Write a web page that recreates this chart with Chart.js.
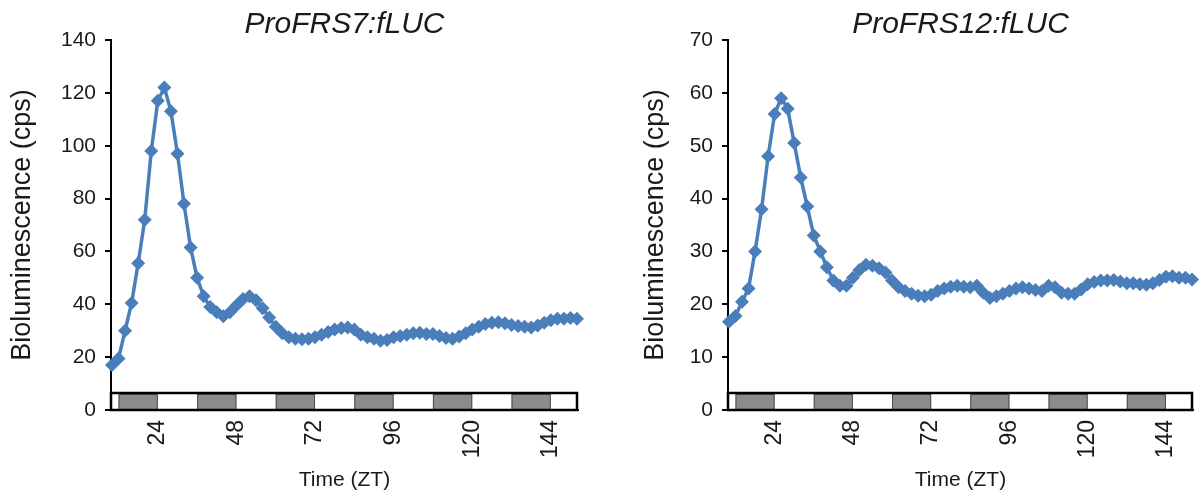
<!DOCTYPE html>
<html>
<head>
<meta charset="utf-8">
<script src="https://cdn.jsdelivr.net/npm/chart.js@4/dist/chart.umd.min.js"></script>
<style>
  body { margin: 0; background: #fff; }
  canvas { position: absolute; top: 0; }
</style>
</head>
<body>
<canvas id="chartFRS7" width="600" height="497" style="left:0px"></canvas>
<canvas id="chartFRS12" width="567" height="497" style="left:633px"></canvas>
<script>
// sampling times (ZT, hours)
const hours = [10, 12, 14, 16, 18, 20, 22, 24, 26, 28, 30, 32, 34, 36, 38, 40, 42, 44, 46, 48,
  50, 52, 54, 56, 58, 60, 62, 64, 66, 68, 70, 72, 74, 76, 78, 80, 82, 84, 86, 88,
  90, 92, 94, 96, 98, 100, 102, 104, 106, 108, 110, 112, 114, 116, 118, 120, 122, 124, 126, 128,
  130, 132, 134, 136, 138, 140, 142, 144, 146, 148, 150, 152];

// ProFRS7:fLUC bioluminescence (cps)
const frs7 = [17, 19.5, 30, 40.5, 55.5, 72, 98, 117, 122, 113, 97, 78, 61.5, 50, 43, 39, 37, 35.5, 37, 39.5,
  42, 43, 41.5, 38.5, 35, 31.5, 29, 27.5, 27, 26.8, 27, 27.5, 28.5, 29.5, 30.5, 31, 31.2, 30.5, 28.5, 27.5,
  27, 26.2, 26.5, 27.5, 28, 28.5, 29, 29.2, 28.8, 28.8, 28, 27.2, 27, 27.8, 29, 30.5, 31.5, 32.5, 33, 33.2,
  32.8, 32.2, 31.8, 31.5, 31.2, 32, 33, 34, 34.5, 34.5, 34.8, 34.5];

// ProFRS12:fLUC bioluminescence (cps)
const frs12 = [16.7, 17.8, 20.5, 23, 30, 38, 48, 56, 59, 57, 50.5, 44, 38.5, 33, 30, 27, 24.5, 23.5, 23.5, 25,
  26.5, 27.5, 27.3, 26.8, 26, 24.5, 23.2, 22.5, 22, 21.6, 21.5, 21.8, 22.5, 23, 23.3, 23.5, 23.3, 23.2, 23.5, 22.2,
  21.2, 21.5, 22, 22.5, 23, 23.2, 23, 22.7, 22.5, 23.5, 23.2, 22.2, 22, 22, 22.8, 23.8, 24.2, 24.5, 24.5, 24.6,
  24.3, 24, 24, 23.8, 23.7, 24, 24.6, 25.2, 25.3, 25, 25, 24.7];

const xTicks = [24, 48, 72, 96, 120, 144];

// dark periods for the light/dark bar
const darkStart = [12, 36, 60, 84, 108, 132];
const darkEnd = [24, 48, 72, 96, 120, 144];

const xMin = 9.7;
const xMax = 152.3;

const blue = '#4a7ebb';
const textColor = '#1a1a1a';
const fontFamily = '"Liberation Sans", Arial, sans-serif';

// light/dark bar at the bottom of the plot
const lightDarkBar = {
  id: 'lightDarkBar',
  beforeDatasetsDraw(chart) {
    const ctx = chart.ctx;
    const area = chart.chartArea;
    const x = chart.scales.x;
    const top = area.bottom - 17;
    ctx.save();
    ctx.fillStyle = '#fff';
    ctx.fillRect(area.left, top, area.right - area.left, area.bottom - top);
    for (let i = 0; i < darkStart.length; i++) {
      const x0 = x.getPixelForValue(darkStart[i]);
      const x1 = x.getPixelForValue(darkEnd[i]);
      ctx.fillStyle = '#8c8c8c';
      ctx.fillRect(x0, top + 1, x1 - x0, area.bottom - top - 1);
      ctx.strokeStyle = '#4d4d4d';
      ctx.lineWidth = 1;
      ctx.strokeRect(x0 + 0.5, top + 1.5, x1 - x0 - 1, area.bottom - top - 2);
    }
    ctx.strokeStyle = '#000';
    ctx.lineWidth = 2.5;
    ctx.strokeRect(area.left, top, area.right - area.left - 1, area.bottom - top);
    ctx.restore();
  }
};

function makeChart(id, title, values, yMax, yStep, yWidth, padRight) {
  return new Chart(document.getElementById(id).getContext('2d'), {
    type: 'line',
    data: {
      datasets: [{
        data: values.map((v, i) => ({ x: hours[i], y: v })),
        borderColor: blue,
        backgroundColor: blue,
        borderWidth: 3.5,
        pointStyle: 'rectRot',
        pointRadius: 7,
        pointBorderWidth: 0,
        tension: 0,
        clip: false
      }]
    },
    options: {
      responsive: false,
      animation: false,
      devicePixelRatio: 1,
      layout: { padding: { left: 0, right: padRight, top: 0, bottom: 0 } },
      plugins: {
        legend: { display: false },
        tooltip: { enabled: false },
        title: {
          display: true,
          text: title,
          fullSize: false,
          color: textColor,
          font: { family: fontFamily, size: 30, style: 'italic', weight: 'normal', lineHeight: 1 },
          padding: { top: 10, bottom: 0 }
        }
      },
      scales: {
        x: {
          type: 'linear',
          min: xMin,
          max: xMax,
          afterBuildTicks: s => { s.ticks = xTicks.map(v => ({ value: v })); },
          afterFit: s => { s.height = 87; s.paddingLeft = 0; s.paddingRight = 0; },
          grid: { display: false, drawTicks: false },
          border: { display: true, color: '#000', width: 2 },
          ticks: {
            minRotation: 90,
            maxRotation: 90,
            padding: 10,
            color: textColor,
            font: { family: fontFamily, size: 23 }
          },
          title: {
            display: true,
            text: 'Time (ZT)',
            color: textColor,
            font: { family: fontFamily, size: 21 },
            padding: { top: 0, bottom: 4 }
          }
        },
        y: {
          min: 0,
          max: yMax,
          afterFit: s => { s.width = yWidth; },
          grid: { drawOnChartArea: false, drawTicks: true, tickLength: 6, color: '#000', lineWidth: 2 },
          border: { display: true, color: '#000', width: 2 },
          ticks: {
            stepSize: yStep,
            padding: 9,
            color: textColor,
            font: { family: fontFamily, size: 21 }
          },
          title: {
            display: true,
            text: 'Bioluminescence (cps)',
            color: textColor,
            font: { family: fontFamily, size: 27 },
            padding: { top: 6, bottom: 0 }
          }
        }
      }
    },
    plugins: [lightDarkBar]
  });
}

makeChart('chartFRS7', 'ProFRS7:fLUC', frs7, 140, 20, 111, 22);
makeChart('chartFRS12', 'ProFRS12:fLUC', frs12, 70, 10, 95, 2);
</script>
</body>
</html>
